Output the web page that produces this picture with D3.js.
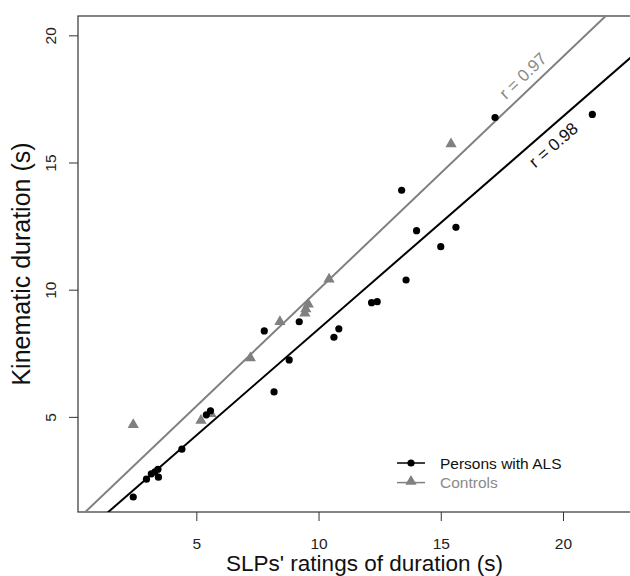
<!DOCTYPE html>
<html>
<head>
<meta charset="utf-8">
<script src="https://cdn.jsdelivr.net/npm/d3@7"></script>
<style>
  body { margin: 0; background: #fff; }
  svg { display: block; font-family: 'Liberation Sans', Arial, sans-serif; }
</style>
</head>
<body>
<div id="chart"></div>
<script>
// persons with ALS (black dots)
const alsX = [2.42, 2.96, 3.16, 3.31, 3.43, 3.45, 4.41, 5.41, 5.58, 7.78, 8.18, 8.80, 9.21, 10.63, 10.83, 12.17, 12.40, 13.40, 13.58, 14.01, 15.00, 15.62, 17.22, 21.20];
const alsY = [1.85, 2.55, 2.76, 2.84, 2.94, 2.63, 3.73, 5.08, 5.24, 8.38, 5.98, 7.24, 8.74, 8.13, 8.46, 9.49, 9.53, 13.91, 10.38, 12.32, 11.69, 12.45, 16.77, 16.89];

// controls (grey triangles)
const ctrlX = [2.42, 5.19, 5.60, 7.21, 8.42, 9.44, 9.48, 9.58, 10.43, 15.42];
const ctrlY = [4.69, 4.86, 5.12, 7.31, 8.74, 9.07, 9.24, 9.43, 10.41, 15.73];

// regression lines: ALS, controls
const fitIntercept = [0.09, 0.84];
const fitSlope = [0.836, 0.916];
const fitLabel = ['r = 0.98', 'r = 0.97'];
const fitLabelX = [19.2, 18.75];

const xTicks = [5, 10, 15, 20];
const yTicks = [5, 10, 15, 20];
const legendLabels = ['Persons with ALS', 'Controls'];

const width = 630;
const height = 576;
const plot = { left: 78, top: 16, right: 651, bottom: 512 };
const grey = '#808080';

const svg = d3.select('#chart')
  .append('svg')
  .attr('width', width)
  .attr('height', height);

const xScale = d3.scaleLinear()
  .domain([0.16, 23.6])
  .range([plot.left, plot.right]);

const yScale = d3.scaleLinear()
  .domain([1.26, 20.76])
  .range([plot.bottom, plot.top]);

svg.append('clipPath')
  .attr('id', 'plotclip')
  .append('rect')
  .attr('x', plot.left)
  .attr('y', plot.top)
  .attr('width', plot.right - plot.left)
  .attr('height', plot.bottom - plot.top);

// axes
const xAxis = d3.axisBottom(xScale)
  .tickValues(xTicks)
  .tickSize(9)
  .tickPadding(17);

const yAxis = d3.axisLeft(yScale)
  .tickValues(yTicks)
  .tickSize(9);

const gx = svg.append('g')
  .attr('transform', `translate(0, ${plot.bottom})`)
  .call(xAxis);

const gy = svg.append('g')
  .attr('transform', `translate(${plot.left}, 0)`)
  .call(yAxis);

[gx, gy].forEach(g => {
  g.select('.domain').remove();
  g.selectAll('.tick line').attr('stroke', '#333');
  g.selectAll('.tick text')
    .attr('fill', '#222')
    .style('font-family', "'Liberation Sans', Arial, sans-serif")
    .style('font-size', '15.5px');
});

// y labels are parallel to the axis, like R
gy.selectAll('.tick text')
  .attr('transform', 'rotate(-90)')
  .attr('x', 0)
  .attr('y', -22)
  .attr('dy', 0)
  .style('text-anchor', 'middle');

// box
svg.append('rect')
  .attr('x', plot.left)
  .attr('y', plot.top)
  .attr('width', plot.right - plot.left)
  .attr('height', plot.bottom - plot.top)
  .attr('fill', 'none')
  .attr('stroke', '#333')
  .attr('stroke-width', 1.2);

// regression lines
const fits = fitSlope.map((b, i) => ({
  a: fitIntercept[i], b: b, label: fitLabel[i], lx: fitLabelX[i],
  color: i === 0 ? '#000' : grey
}));

const x0 = xScale.domain()[0], x1 = xScale.domain()[1];

svg.append('g')
  .attr('clip-path', 'url(#plotclip)')
  .selectAll('line')
  .data(fits)
  .enter()
  .append('line')
  .attr('x1', xScale(x0))
  .attr('y1', d => yScale(d.a + d.b * x0))
  .attr('x2', xScale(x1))
  .attr('y2', d => yScale(d.a + d.b * x1))
  .attr('stroke', d => d.color)
  .attr('stroke-width', 2);

// r labels along the lines (positive offset = below the line)
const labelOffset = [21, -8];
svg.selectAll('.rlabel')
  .data(fits)
  .enter()
  .append('text')
  .attr('class', 'rlabel')
  .attr('transform', (d, i) => {
    const px = xScale(d.lx), py = yScale(d.a + d.b * d.lx);
    const dx = xScale(d.lx + 1) - px, dy = yScale(d.a + d.b * (d.lx + 1)) - py;
    const ang = Math.atan2(dy, dx);
    const ox = -Math.sin(ang) * labelOffset[i], oy = Math.cos(ang) * labelOffset[i];
    return `translate(${px + ox}, ${py + oy}) rotate(${ang * 180 / Math.PI})`;
  })
  .attr('text-anchor', 'middle')
  .attr('fill', d => d.color === grey ? '#8a8a8a' : '#111')
  .style('font-size', '17px')
  .text(d => d.label);

// points
const triangle = d3.symbol().type(d3.symbolTriangle).size(55);

svg.append('g')
  .selectAll('path')
  .data(ctrlX.map((x, i) => [x, ctrlY[i]]))
  .enter()
  .append('path')
  .attr('d', triangle)
  .attr('transform', d => `translate(${xScale(d[0])}, ${yScale(d[1])})`)
  .attr('fill', grey);

svg.append('g')
  .selectAll('circle')
  .data(alsX.map((x, i) => [x, alsY[i]]))
  .enter()
  .append('circle')
  .attr('cx', d => xScale(d[0]))
  .attr('cy', d => yScale(d[1]))
  .attr('r', 3.6)
  .attr('fill', '#000');

// axis titles
svg.append('text')
  .attr('x', 364.5)
  .attr('y', 571)
  .attr('text-anchor', 'middle')
  .attr('fill', '#111')
  .style('font-size', '22.5px')
  .text("SLPs' ratings of duration (s)");

svg.append('text')
  .attr('transform', `translate(30, ${(plot.top + plot.bottom) / 2}) rotate(-90)`)
  .attr('text-anchor', 'middle')
  .attr('fill', '#111')
  .style('font-size', '25px')
  .text('Kinematic duration (s)');

// legend
const legend = svg.append('g').attr('transform', 'translate(397, 463)');

legendLabels.forEach((lab, i) => {
  const row = legend.append('g').attr('transform', `translate(0, ${i * 19.6})`);
  const col = i === 0 ? '#000' : grey;
  row.append('line')
    .attr('x1', 0).attr('x2', 28)
    .attr('stroke', col)
    .attr('stroke-width', 1.5);
  if (i === 0) {
    row.append('circle').attr('cx', 14).attr('r', 3.6).attr('fill', col);
  } else {
    row.append('path').attr('d', triangle).attr('transform', 'translate(14, -1)').attr('fill', col);
  }
  row.append('text')
    .attr('x', 43)
    .attr('y', 5.6)
    .attr('fill', i === 0 ? '#111' : '#8a8a8a')
    .style('font-size', '15.5px')
    .text(lab);
});
</script>
</body>
</html>
